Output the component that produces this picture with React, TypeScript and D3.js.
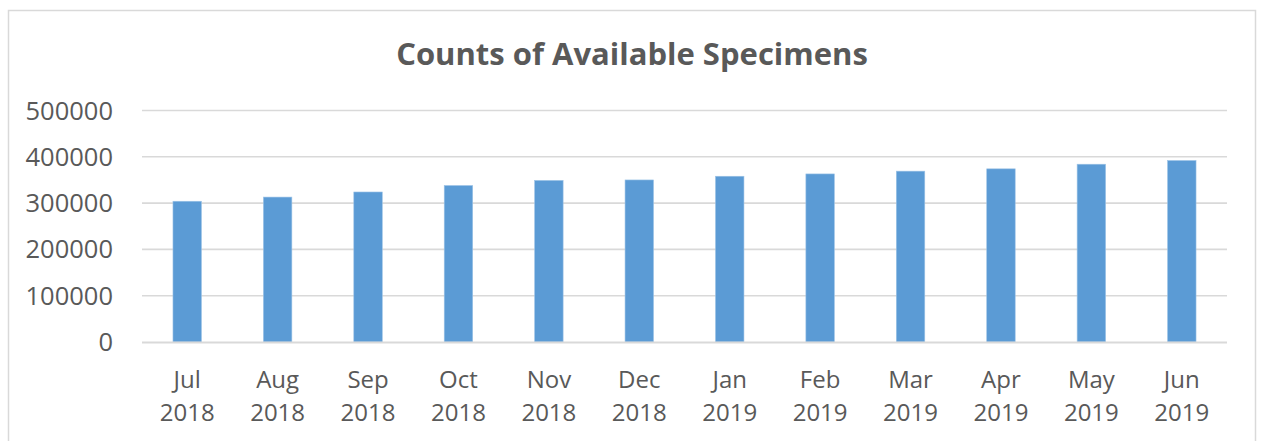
import { useRef, useEffect } from 'react';
import * as d3 from 'd3';

const months = ['Jul', 'Aug', 'Sep', 'Oct', 'Nov', 'Dec', 'Jan', 'Feb', 'Mar', 'Apr', 'May', 'Jun'];
const years = ['2018', '2018', '2018', '2018', '2018', '2018', '2019', '2019', '2019', '2019', '2019', '2019'];
const counts = [304000, 313000, 324000, 338000, 349000, 350000, 358000, 363000, 369000, 374000, 384000, 392000];
const yTicks = [0, 100000, 200000, 300000, 400000, 500000];

const W = 1262;
const H = 441;
const FONT = '"Open Sans", "Liberation Sans", sans-serif';
const TEXT = '#595959';
const GRID = '#d9d9d9';

export default function App() {
  const svgRef = useRef<SVGSVGElement>(null);

  useEffect(() => {
    if (!svgRef.current) return;
    const svg = d3.select(svgRef.current);
    svg.selectAll('*').remove();

    const plot = { left: 142, right: 1227, top: 110.5, bottom: 342 };

    const x = d3.scaleBand<number>()
      .domain(d3.range(counts.length))
      .range([plot.left, plot.right])
      .paddingInner(0.685)
      .paddingOuter(0.685 / 2);

    const y = d3.scaleLinear().domain([0, 500000]).range([plot.bottom, plot.top]);

    // chart frame
    svg.append('rect')
      .attr('x', 8.5)
      .attr('y', 10.5)
      .attr('width', 1247)
      .attr('height', 440)
      .attr('fill', '#fff')
      .attr('stroke', GRID)
      .attr('stroke-width', 1.5);

    // title
    svg.append('text')
      .attr('x', 632)
      .attr('y', 65)
      .attr('text-anchor', 'middle')
      .attr('font-family', FONT)
      .attr('font-weight', 700)
      .attr('font-size', 31)
      .attr('fill', TEXT)
      .text('Counts of Available Specimens');

    // gridlines
    svg.append('g')
      .selectAll('line')
      .data(yTicks.filter((t) => t > 0))
      .join('line')
      .attr('x1', plot.left)
      .attr('x2', plot.right)
      .attr('y1', (d) => y(d))
      .attr('y2', (d) => y(d))
      .attr('stroke', GRID)
      .attr('stroke-width', 1.6);

    // y labels
    svg.append('g')
      .selectAll('text')
      .data(yTicks)
      .join('text')
      .attr('x', 113)
      .attr('y', (d) => y(d) + 9)
      .attr('text-anchor', 'end')
      .attr('font-family', FONT)
      .attr('font-size', 25.5)
      .attr('fill', TEXT)
      .text((d) => String(d));

    // bars
    svg.append('g')
      .selectAll('rect')
      .data(counts)
      .join('rect')
      .attr('x', (_, i) => x(i)!)
      .attr('y', (d) => y(d))
      .attr('width', x.bandwidth())
      .attr('height', (d) => y(0) - y(d))
      .attr('fill', '#5b9bd5')
      .attr('stroke', '#9dc3e6')
      .attr('stroke-width', 0.6);

    // baseline
    svg.append('line')
      .attr('x1', plot.left)
      .attr('x2', plot.right)
      .attr('y1', y(0) + 0.5)
      .attr('y2', y(0) + 0.5)
      .attr('stroke', GRID)
      .attr('stroke-width', 2.2);

    // x labels
    const xl = svg.append('g')
      .selectAll('text')
      .data(months)
      .join('text')
      .attr('text-anchor', 'middle')
      .attr('font-family', FONT)
      .attr('font-size', 24)
      .attr('fill', TEXT);
    xl.append('tspan')
      .attr('x', (_, i) => x(i)! + x.bandwidth() / 2)
      .attr('y', 388)
      .text((d) => d);
    xl.append('tspan')
      .attr('x', (_, i) => x(i)! + x.bandwidth() / 2)
      .attr('y', 421)
      .text((_, i) => years[i]);
  }, []);

  return (
    <div style={{ position: 'absolute', left: 0, top: 0 }}>
      <svg ref={svgRef} width={W} height={H} style={{ display: 'block', background: '#fff' }} />
    </div>
  );
}
